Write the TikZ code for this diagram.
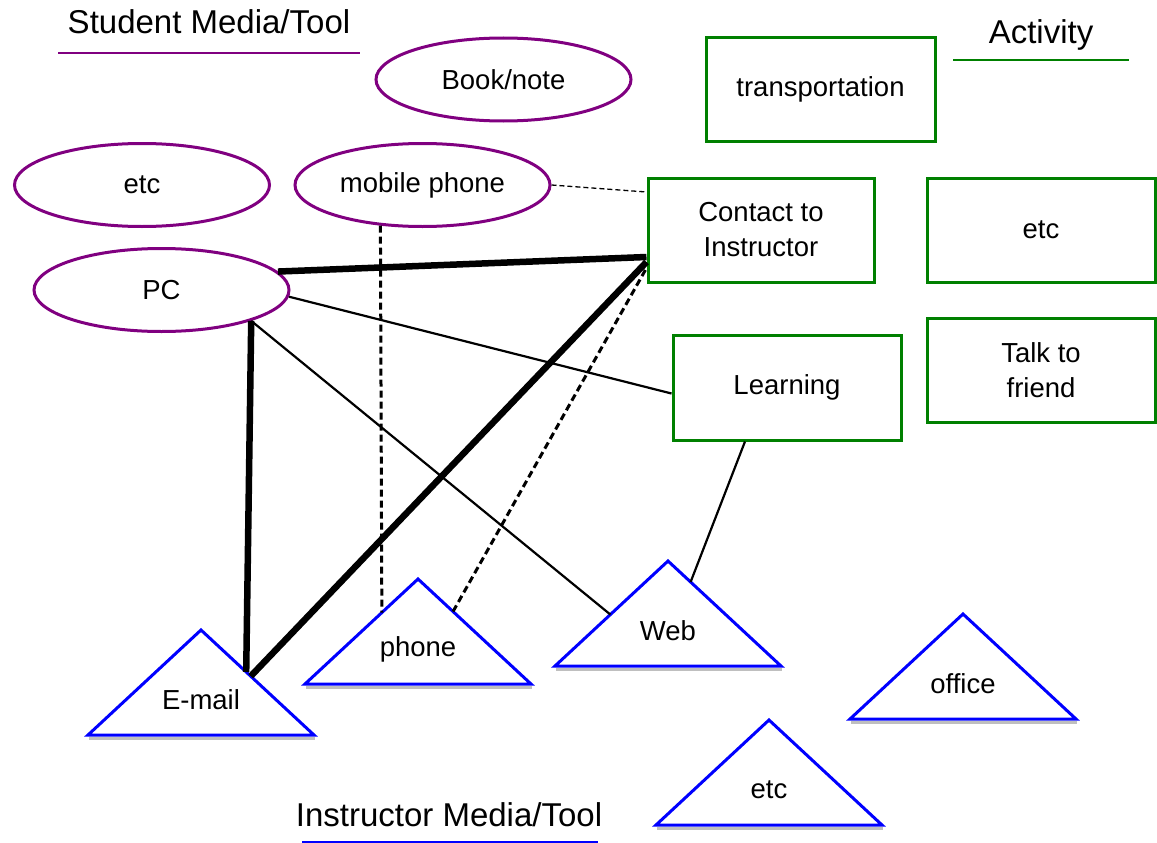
\documentclass[tikz,border=0pt]{standalone}
\usepackage{fontspec}
\setmainfont{Liberation Sans}
\usetikzlibrary{shapes.geometric,calc}
\definecolor{pur}{RGB}{128,0,128}
\definecolor{grn}{RGB}{0,128,0}
\definecolor{blu}{RGB}{0,0,255}
\tikzset{
  ell/.style={ellipse, draw=pur, line width=3pt, minimum width=255pt, minimum height=83pt, inner sep=0pt, font=\fontsize{27.5}{32}\selectfont},
  box/.style={rectangle, draw=grn, line width=3pt, minimum width=228pt, minimum height=104pt, inner sep=0pt, align=center, font=\fontsize{27.5}{35}\selectfont},
  tri/.style={draw=blu, line width=3pt, line join=miter},
  trishadow/.style={draw=gray!50, line width=3pt},
  lbl/.style={inner sep=0pt, font=\fontsize{27.5}{32}\selectfont},
  ttl/.style={inner sep=0pt, font=\fontsize{33}{38}\selectfont},
  heavy/.style={line width=6.5pt},
  thinline/.style={line width=2.2pt},
  dashmid/.style={line width=3pt, dash pattern=on 7pt off 4pt},
  dashthin/.style={line width=1.3pt, dash pattern=on 5pt off 3pt},
}
\newcommand\mytri[4]{%
  \coordinate (#1-a) at (#2,#3);
  \coordinate (#1-l) at (#2-113,#3+105);
  \coordinate (#1-r) at (#2+113,#3+105);
  \draw[trishadow] ([shift={(1pt,-3pt)}]#1-l) -- ([shift={(1pt,-3pt)}]#1-r);
  \draw[tri] (#1-a) -- (#1-l) -- (#1-r) -- cycle;
  \node[lbl] (#1) at (#2,#3+70) {#4};
}
\begin{document}
\begin{tikzpicture}[x=1pt,y=-1pt]
\useasboundingbox (0,0) rectangle (1157,843);

% titles
\node[ttl] (ts) at (209,22) {Student Media/Tool};
\coordinate (tsl) at (58,53); \coordinate (tsr) at (360,53);
\draw[pur, line width=2.5pt] (tsl) -- (tsr);
\node[ttl] (ta) at (1041,35) {Activity};
\coordinate (tal) at (953,60); \coordinate (tar) at (1129,60);
\draw[grn, line width=2.5pt] (tal) -- (tar);
\node[ttl] (ti) at (449,815) {Instructor Media/Tool};
\coordinate (til) at (302,841.5); \coordinate (tir) at (598,841.5);
\draw[blu, line width=2pt] (til) -- (tir);

% student media
\node[ell] (book) at (503.5,79.5) {Book/note};
\node[ell] (setc) at (142,185) {etc};
\node[ell] (mob) at (422.5,185) {mobile phone};
\node[ell] (pc) at (161.5,290) {PC};

% activities
\node[box, minimum width=229pt, minimum height=103pt] (trans) at (820.5,89.5) {transportation};
\node[box, minimum width=226pt] (contact) at (761,230) {Contact to\\Instructor};
\node[box] (aetc) at (1041,230) {etc};
\node[box, minimum height=105pt] (learn) at (787,387.5) {Learning};
\node[box] (talk) at (1041,370) {Talk to\\friend};

% instructor media
\mytri{email}{201}{630}{E-mail}
\mytri{phone}{418}{579}{phone}
\mytri{web}{668}{561}{Web}
\mytri{office}{963}{614}{office}
\mytri{ietc}{769}{720}{etc}

% connectors
\draw[dashthin] (mob.east) -- ([yshift=38pt]contact.west);
\draw[heavy] (pc.9) -- ([yshift=-27pt]contact.west);
\draw[heavy] (pc.-19) -- ($(email-a)!0.4!(email-r)$);
\draw[heavy] ($(email-a)!0.44!(email-r)$) -- ([yshift=-32pt]contact.west);
\draw[dashmid] (mob.224.5) -- ($(phone-a)!0.32!(phone-l)$);
\draw[dashmid] ($(phone-a)!0.31!(phone-r)$) -- ([yshift=-38pt]contact.west);
\draw[thinline] (pc.-3) -- ([yshift=-6pt]learn.west);
\draw[thinline] (pc.-19) -- ($(web-a)!0.51!(web-l)$);
\draw[thinline] ([xshift=-42pt]learn.south) -- ($(web-a)!0.2!(web-r)$);
\end{tikzpicture}
\end{document}
